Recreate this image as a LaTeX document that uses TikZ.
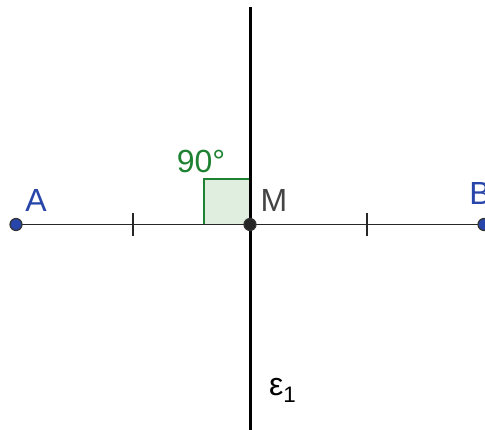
\documentclass[tikz,border=0pt]{standalone}
\usepackage{fontspec}
\setmainfont{Liberation Sans}
\definecolor{ptblue}{RGB}{40,70,170}
\definecolor{anggreen}{RGB}{30,130,50}
\definecolor{angfill}{RGB}{224,238,224}
\definecolor{mgray}{RGB}{68,68,68}
\tikzset{
  lbl/.style={font=\fontsize{32}{36}\selectfont, inner sep=0pt},
  pt/.style={circle, inner sep=0pt, minimum size=12pt, draw=black!80, line width=1.2pt},
  tick/.style={line width=1.4pt, black!85},
}
\begin{document}
\begin{tikzpicture}[x=1pt,y=1pt]
\useasboundingbox (0,0) rectangle (485,430);
\clip (0,0) rectangle (485,430);
\coordinate (A) at (16,205.5);
\coordinate (B) at (484,205.5);
\coordinate (M) at (250,205.5);
\coordinate (top) at (250,423);
\coordinate (bot) at (250,-5);
% right angle
\filldraw[fill=angfill, draw=anggreen, line width=1.2pt] (204,205.5) rectangle (250,251);
% segment
\draw[line width=1.8pt, black!85] (A) -- (B);
% perpendicular line
\draw[line width=3pt, black] (bot) -- (top);
% ticks
\draw[tick] (133,194) -- (133,217);
\draw[tick] (367,194) -- (367,217);
% points
\node[pt, fill=ptblue] (a) at (A) {};
\node[pt, fill=ptblue] (b) at (B) {};
\node[pt, fill=black!85] (m) at (M) {};
% labels
\node[lbl, text=ptblue] (la) at (36,230) {A};
\node[lbl, text=ptblue] (lb) at (480,237) {B};
\node[lbl, text=mgray] (lm) at (274,230) {M};
\node[lbl, text=anggreen] (l90) at (201,269) {90°};
\node[lbl, anchor=west] (le) at (269,40) {ε\textsubscript{1}};
\end{tikzpicture}
\end{document}
